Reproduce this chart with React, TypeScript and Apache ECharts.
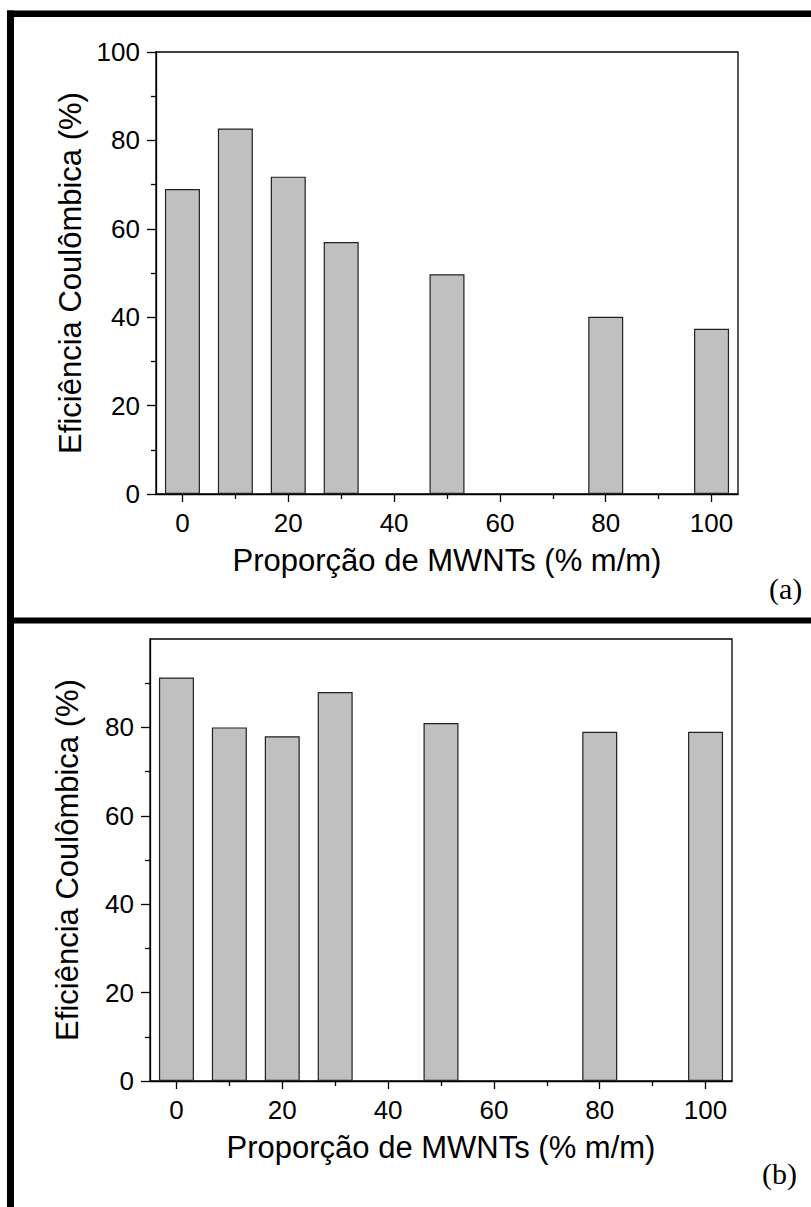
import React, { useEffect, useRef } from 'react';
import * as echarts from 'echarts';

const xValues = [0, 10, 20, 30, 50, 80, 100];
const efficiencyA = [69.0, 82.7, 71.8, 57.0, 49.7, 40.1, 37.4];
const efficiencyB = [91.3, 80.0, 78.0, 88.0, 81.0, 79.0, 79.0];
const xMajorTicks = [0, 20, 40, 60, 80, 100];
const xMinorTicks = [10, 30, 50, 70, 90];
const yMajorTicksA = [0, 20, 40, 60, 80, 100];
const yMajorTicksB = [0, 20, 40, 60, 80];
const yMinorTicks = [10, 30, 50, 70, 90];
const xTitle = 'Proporção de MWNTs (% m/m)';
const yTitle = 'Eficiência Coulômbica (%)';
const panelLabels = ['(a)', '(b)'];

const SANS = 'Liberation Sans, Arial, sans-serif';
const SERIF = 'Liberation Serif, Times New Roman, serif';
const LINE = { color: '#000', width: 1.3 };

const grids = [
  { left: 156, top: 52, width: 582, height: 442 },
  { left: 150, top: 639, width: 582, height: 442 },
];

function buildOption() {
  const xAxis: any[] = [];
  const yAxis: any[] = [];
  const series: any[] = [];
  const panels = [
    { values: efficiencyA, yMajor: yMajorTicksA },
    { values: efficiencyB, yMajor: yMajorTicksB },
  ];
  panels.forEach((p, i) => {
    xAxis.push({
      type: 'value', gridIndex: i, min: -5, max: 105, position: 'bottom',
      axisLine: { show: true, onZero: false, lineStyle: LINE },
      axisTick: { show: true, customValues: xMajorTicks, length: 8, lineStyle: LINE },
      axisLabel: { customValues: xMajorTicks, margin: 16, fontSize: 26, color: '#000', fontFamily: SANS },
      splitLine: { show: false },
      name: xTitle, nameLocation: 'middle', nameGap: 51,
      nameTextStyle: { fontSize: 31, color: '#000', fontFamily: SANS },
    });
    xAxis.push({
      type: 'value', gridIndex: i, min: -5, max: 105, position: 'bottom',
      axisLine: { show: false, onZero: false },
      axisTick: { show: true, customValues: xMinorTicks, length: 5, lineStyle: LINE },
      axisLabel: { show: false },
      splitLine: { show: false },
    });
    yAxis.push({
      type: 'value', gridIndex: i, min: 0, max: 100, position: 'left',
      axisLine: { show: true, onZero: false, lineStyle: LINE },
      axisTick: { show: true, customValues: p.yMajor, length: 9, lineStyle: LINE },
      axisLabel: { customValues: p.yMajor, margin: 16, fontSize: 26, color: '#000', fontFamily: SANS },
      splitLine: { show: false },
      name: yTitle, nameLocation: 'middle', nameGap: 67,
      nameTextStyle: { fontSize: 31, color: '#000', fontFamily: SANS },
    });
    yAxis.push({
      type: 'value', gridIndex: i, min: 0, max: 100, position: 'left',
      axisLine: { show: false, onZero: false },
      axisTick: { show: true, customValues: yMinorTicks, length: 5, lineStyle: LINE },
      axisLabel: { show: false },
      splitLine: { show: false },
    });
    series.push({
      type: 'bar', xAxisIndex: 2 * i, yAxisIndex: 2 * i,
      data: xValues.map((x, k) => [x, p.values[k]]),
      barWidth: 35,
      itemStyle: { color: '#c0c0c0', borderColor: '#222', borderWidth: 1.2 },
    });
  });

  return {
    animation: false,
    backgroundColor: '#fff',
    grid: grids.map((g) => ({ ...g, show: true, borderColor: '#000', borderWidth: 1.3, backgroundColor: 'transparent' })),
    xAxis, yAxis, series,
    graphic: [
      { type: 'rect', shape: { x: 7, y: 10.5, width: 7, height: 1200 }, style: { fill: '#000' } },
      { type: 'rect', shape: { x: 7, y: 10.5, width: 810, height: 6.5 }, style: { fill: '#000' } },
      { type: 'rect', shape: { x: 7, y: 617.5, width: 810, height: 6 }, style: { fill: '#000' } },
      { type: 'text', x: 769, y: 573, style: { text: panelLabels[0], font: '30px ' + SERIF, fill: '#000' } },
      { type: 'text', x: 762, y: 1158, style: { text: panelLabels[1], font: '30px ' + SERIF, fill: '#000' } },
    ],
  };
}

export default function App() {
  const ref = useRef<HTMLDivElement>(null);
  useEffect(() => {
    const chart = echarts.init(ref.current!, null, { renderer: 'svg' });
    chart.setOption(buildOption() as any);
    return () => chart.dispose();
  }, []);
  return (
    <div
      ref={ref}
      style={{ position: 'absolute', left: 0, top: 0, width: 811, height: 1207, background: '#fff' }}
    />
  );
}
